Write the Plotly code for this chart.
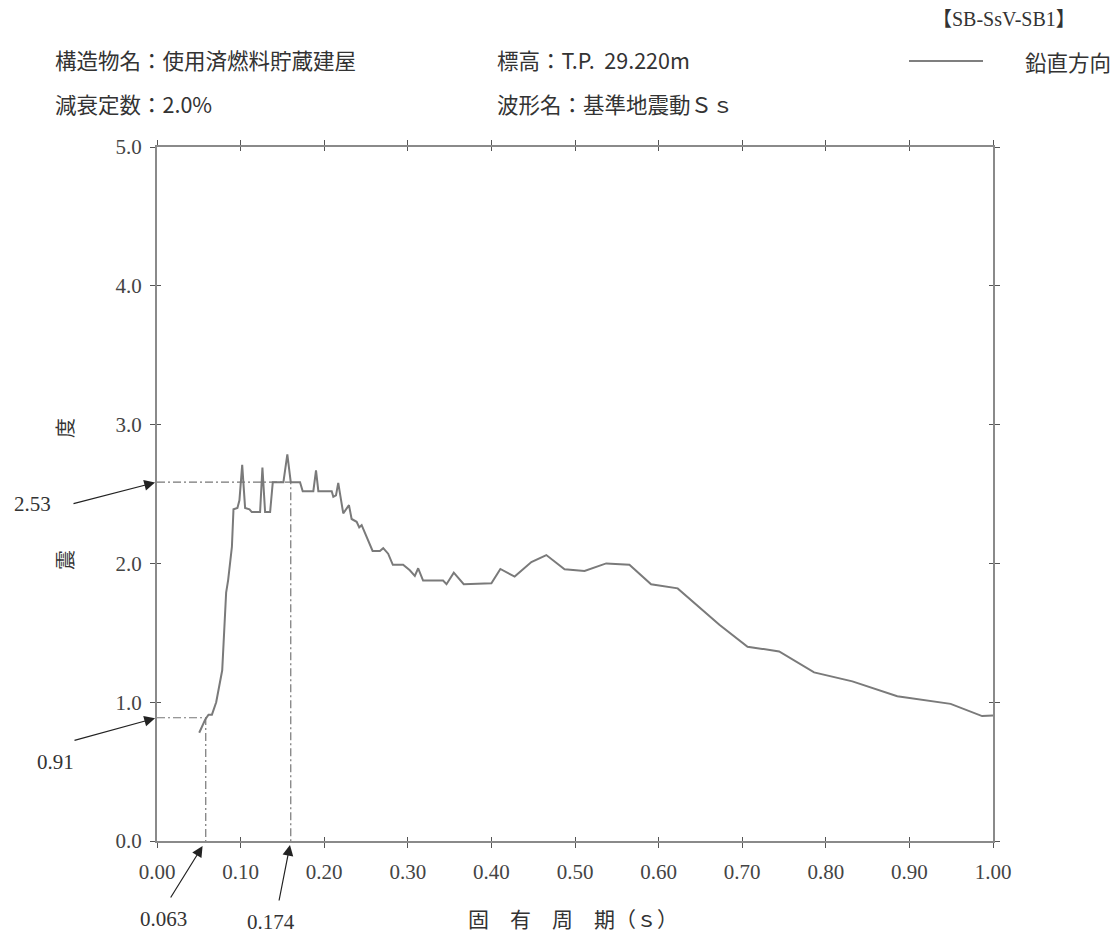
import plotly.graph_objects as go

# ---------------- data ----------------
period = [0.0505, 0.0577, 0.0616, 0.0657, 0.0708, 0.0736, 0.0756, 0.0780, 0.0827, 0.0851,
          0.0896, 0.0915, 0.0962, 0.0986, 0.1019, 0.1054, 0.1106, 0.1134, 0.1233, 0.1261,
          0.1293, 0.1353, 0.1385, 0.1512, 0.1559, 0.1600, 0.1711, 0.1743, 0.1870, 0.1902,
          0.1930, 0.2090, 0.2109, 0.2141, 0.2168, 0.2197, 0.2228, 0.2296, 0.2328, 0.2388,
          0.2419, 0.2448, 0.2507, 0.2547, 0.2579, 0.2666, 0.2706, 0.2765, 0.2821, 0.2944,
          0.3024, 0.3084, 0.3124, 0.3183, 0.3422, 0.3463, 0.3550, 0.3669, 0.4000, 0.4107,
          0.4278, 0.4478, 0.4657, 0.4875, 0.5114, 0.5373, 0.5651, 0.5910, 0.6228, 0.6727,
          0.7064, 0.7442, 0.7860, 0.8318, 0.8855, 0.9493, 0.9870, 1.0000]
accel = [0.78, 0.875, 0.91, 0.91, 1.00, 1.08, 1.16, 1.23, 1.79, 1.88,
         2.12, 2.39, 2.40, 2.455, 2.71, 2.40, 2.39, 2.37, 2.37, 2.69,
         2.37, 2.37, 2.585, 2.585, 2.785, 2.585, 2.585, 2.52, 2.52, 2.67,
         2.52, 2.52, 2.48, 2.49, 2.58, 2.455, 2.36, 2.42, 2.32, 2.30,
         2.26, 2.275, 2.19, 2.145, 2.09, 2.09, 2.11, 2.07, 1.99, 1.99,
         1.95, 1.91, 1.965, 1.876, 1.876, 1.85, 1.933, 1.85, 1.857, 1.96,
         1.905, 2.01, 2.06, 1.958, 1.945, 2.00, 1.99, 1.85, 1.82, 1.558,
         1.40, 1.366, 1.215, 1.15, 1.043, 0.988, 0.90, 0.905]

# marked points (positions as drawn) and their printed labels
mark_period = [0.0583, 0.160]
mark_accel = [0.888, 2.586]
mark_period_labels = ["0.063", "0.174"]
mark_accel_labels = ["0.91", "2.53"]

x_ticks = [0.0, 0.1, 0.2, 0.3, 0.4, 0.5, 0.6, 0.7, 0.8, 0.9, 1.0]
x_tick_labels = ["0.00", "0.10", "0.20", "0.30", "0.40", "0.50", "0.60", "0.70", "0.80", "0.90", "1.00"]
y_ticks = [0, 1, 2, 3, 4, 5]
y_tick_labels = ["0.0", "1.0", "2.0", "3.0", "4.0", "5.0"]

series_name = "鉛直方向"
title_struct = "構造物名：使用済燃料貯蔵建屋"
title_damp = "減衰定数：2.0%"
title_elev = "標高：T.P.\u00a0\u00a029.220m"
title_wave = "波形名：基準地震動Ｓｓ"
title_id = "【SB-SsV-SB1】"
x_title = "固　有　周　期（ｓ）"
y_title_chars = ["震", "度"]

# ---------------- layout geometry ----------------
W, H = 1117, 933
L, R, T, B = 157, 124, 147, 92
PW, PH = W - L - R, H - T - B

def px(x):
    return (x - L) / PW

def py(y):
    return (H - B - y) / PH

NUM_FONT = "Liberation Serif, Noto Sans CJK JP"
CJK_FONT = "Noto Sans CJK JP, Liberation Serif"
TXT = "#333333"
LINE = "#7a7a7a"

fig = go.Figure()

# main curve
fig.add_trace(go.Scatter(x=period, y=accel, mode="lines", name=series_name,
                         line=dict(color=LINE, width=2), showlegend=False))

# dash-dot guide lines for the two marked points
for mx, my in zip(mark_period, mark_accel):
    fig.add_trace(go.Scatter(x=[0, mx, mx], y=[my, my, 0], mode="lines",
                             line=dict(color="#777777", width=1.2, dash="8px,3px,2px,3px"),
                             showlegend=False, hoverinfo="skip"))

# dummy trace for overlay axes (inside ticks)
fig.add_trace(go.Scatter(x=[None], y=[None], xaxis="x2", yaxis="y2", showlegend=False,
                         hoverinfo="skip"))

axis_common = dict(showgrid=False, zeroline=False, linecolor="#8a8a8a", linewidth=2,
                   ticks="outside", ticklen=5, tickwidth=1, tickcolor="#555555",
                   mirror="allticks", showline=True)

fig.update_layout(
    width=W, height=H,
    margin=dict(l=L, r=R, t=T, b=B),
    paper_bgcolor="white", plot_bgcolor="white",
    xaxis=dict(range=[0, 1], tickvals=x_ticks, ticktext=x_tick_labels,
               tickfont=dict(family=NUM_FONT, size=21, color="#444444"),
               ticklabelstandoff=6, **axis_common),
    yaxis=dict(range=[0, 5], tickvals=y_ticks, ticktext=y_tick_labels,
               tickfont=dict(family=NUM_FONT, size=21, color="#444444"),
               ticklabelstandoff=4, **axis_common),
    xaxis2=dict(range=[0, 1], overlaying="x", anchor="y2", tickvals=x_ticks,
                showticklabels=False, ticks="inside", ticklen=4, tickwidth=1,
                tickcolor="#555555", mirror="allticks", showline=False, showgrid=False,
                zeroline=False),
    yaxis2=dict(range=[0, 5], overlaying="y", anchor="x2", tickvals=y_ticks,
                showticklabels=False, ticks="inside", ticklen=4, tickwidth=1,
                tickcolor="#555555", mirror="allticks", showline=False, showgrid=False,
                zeroline=False),
    showlegend=False,
)

ann = []

def text(t, x, y, xanchor="left", size=21.5, family=CJK_FONT, angle=0):
    ann.append(dict(text=t, x=px(x), y=py(y), xref="paper", yref="paper",
                    xanchor=xanchor, yanchor="middle", showarrow=False,
                    textangle=angle, font=dict(family=family, size=size, color=TXT)))

# header texts
text(title_struct, 53, 59)
text(title_damp, 53, 104)
text(title_elev, 495, 59)
text(title_wave, 495, 104)
text(title_id, 1078, 19, xanchor="right", size=20, family=NUM_FONT)
text(series_name, 1023, 61)

# axis titles
text(x_title, 466, 918, size=21)
for ch, yy in zip(y_title_chars, [560, 428]):
    text(ch, 64, yy, xanchor="center", size=20, angle=-90)

# label texts for marked values
text(mark_accel_labels[1], 32, 504, xanchor="center", size=21, family=NUM_FONT)
text(mark_accel_labels[0], 55, 762, xanchor="center", size=21, family=NUM_FONT)
text(mark_period_labels[0], 163, 919, xanchor="center", size=21, family=NUM_FONT)
text(mark_period_labels[1], 271, 922, xanchor="center", size=21, family=NUM_FONT)

# arrows pointing at marked values
arrow_style = dict(showarrow=True, arrowhead=2, arrowsize=1.8, arrowwidth=1.2,
                   arrowcolor="#222222", text="", xref="x", yref="y")
ann.append(dict(x=0, y=mark_accel[1], ax=-85, ay=22, standoff=2, **arrow_style))
ann.append(dict(x=0, y=mark_accel[0], ax=-84, ay=23, standoff=2, **arrow_style))
ann.append(dict(x=mark_period[0], y=0, ax=-36, ay=58, standoff=6, **arrow_style))
ann.append(dict(x=mark_period[1], y=0, ax=-12, ay=61, standoff=4, **arrow_style))

fig.update_layout(annotations=ann)

# legend sample line
fig.add_shape(type="line", xref="paper", yref="paper", x0=px(909), x1=px(983),
              y0=py(61), y1=py(61), line=dict(color="#555555", width=1.5))

fig.write_html("out.html", config={"displayModeBar": False},
               post_script="document.body.style.margin='0';document.body.style.overflow='hidden';")
